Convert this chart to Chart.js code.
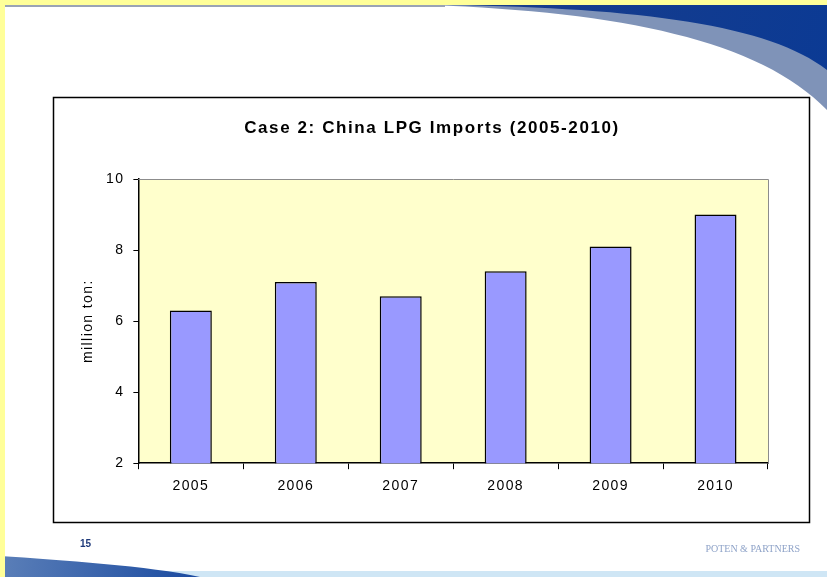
<!DOCTYPE html>
<html>
<head>
<meta charset="utf-8">
<script src="https://cdn.jsdelivr.net/npm/chart.js@4"></script>
<style>
  html, body { margin: 0; padding: 0; background: #fff; }
  #wrap { position: relative; width: 827px; height: 577px; }
</style>
</head>
<body>
<div id="wrap"><canvas id="lpgChart" width="827" height="577"></canvas></div>
<script>
// China LPG imports, million tons
const years = ['2005', '2006', '2007', '2008', '2009', '2010'];
const imports = [6.3, 7.1, 6.7, 7.4, 8.1, 9.0];
const yTicks = [2, 4, 6, 8, 10];
const chartTitle = 'Case 2: China LPG Imports (2005-2010)';

// Slide background: yellow edges, blue swooshes, chart frame, footer
const slidePlugin = {
    id: 'slide',
    beforeDraw(chart) {
        const ctx = chart.ctx;
        const W = chart.width, H = chart.height;
        ctx.save();
        ctx.fillStyle = '#fff';
        ctx.fillRect(0, 0, W, H);

        // top right swoosh
        let g = ctx.createLinearGradient(440, 0, 827, 100);
        g.addColorStop(0, '#1a3d8a');
        g.addColorStop(1, '#0b3a94');
        ctx.fillStyle = '#7f93b8';
        ctx.beginPath();
        ctx.moveTo(430, 5);
        ctx.bezierCurveTo(620, 12, 760, 40, 827, 110);
        ctx.lineTo(827, 5);
        ctx.closePath();
        ctx.fill();
        ctx.fillStyle = g;
        ctx.beginPath();
        ctx.moveTo(450, 5);
        ctx.bezierCurveTo(640, 8, 770, 25, 827, 70);
        ctx.lineTo(827, 5);
        ctx.closePath();
        ctx.fill();
        // thin grey line under top strip
        ctx.fillStyle = '#9aa3b5';
        ctx.fillRect(5, 5, 440, 2);

        // bottom left swoosh
        ctx.fillStyle = '#cfe6f5';
        ctx.fillRect(0, 571, W, 6);
        g = ctx.createLinearGradient(0, 560, 200, 577);
        g.addColorStop(0, '#5b7fb8');
        g.addColorStop(1, '#1a4aa0');
        ctx.fillStyle = g;
        ctx.beginPath();
        ctx.moveTo(0, 556);
        ctx.bezierCurveTo(60, 560, 150, 566, 200, 577);
        ctx.lineTo(0, 577);
        ctx.closePath();
        ctx.fill();

        // yellow edges
        ctx.fillStyle = '#ffff99';
        ctx.fillRect(0, 0, W, 5);
        ctx.fillRect(0, 0, 5, H);

        // chart frame
        ctx.strokeStyle = '#000';
        ctx.lineWidth = 1.5;
        ctx.strokeRect(53.5, 97.5, 756, 425);

        // footer text
        ctx.fillStyle = '#1f3a7a';
        ctx.font = 'bold 10px "Liberation Sans"';
        ctx.textBaseline = 'middle';
        ctx.fillText('15', 80, 544);
        ctx.fillStyle = '#8fa3c8';
        ctx.font = '10px "Liberation Serif"';
        ctx.textAlign = 'right';
        ctx.fillText('POTEN & PARTNERS', 800, 549);

        // title, spaced out like the original
        ctx.fillStyle = '#000';
        ctx.font = 'bold 17px "Liberation Sans"';
        ctx.textAlign = 'center';
        ctx.letterSpacing = '1.6px';
        ctx.fillText(chartTitle, 432, 128);

        // plot area fill
        const a = chart.chartArea;
        ctx.fillStyle = '#ffffcc';
        ctx.fillRect(a.left, a.top, a.right - a.left, a.bottom - a.top);
        ctx.restore();

        // axis text is spaced out a little too
        ctx.letterSpacing = '1.4px';
    },
    afterDatasetsDraw(chart) {
        const ctx = chart.ctx;
        const a = chart.chartArea;
        ctx.save();
        ctx.strokeStyle = '#8c8c8c';
        ctx.lineWidth = 1;
        ctx.beginPath();
        ctx.moveTo(a.left, a.top + 0.5);
        ctx.lineTo(a.right + 0.5, a.top + 0.5);
        ctx.lineTo(a.right + 0.5, a.bottom);
        ctx.stroke();
        ctx.restore();
    },
    afterDraw(chart) {
        chart.ctx.letterSpacing = '0px';
    }
};

const ctx = document.getElementById('lpgChart').getContext('2d');
new Chart(ctx, {
    type: 'bar',
    data: {
        labels: years,
        datasets: [{
            label: 'China LPG Imports',
            data: imports,
            backgroundColor: '#9999ff',
            borderColor: '#000',
            borderWidth: 1.5,
            borderSkipped: false,
            barPercentage: 0.4,
            categoryPercentage: 1.0
        }]
    },
    options: {
        responsive: false,
        animation: false,
        layout: { padding: { left: 80, right: 59, top: 179, bottom: 73 } },
        plugins: {
            legend: { display: false },
            tooltip: { enabled: false },
            title: { display: false }
        },
        scales: {
            x: {
                grid: { offset: true, drawOnChartArea: false, color: '#000', tickLength: 6 },
                border: { color: '#000', width: 1.5 },
                ticks: { color: '#000', font: { family: 'Liberation Sans', size: 14 }, padding: 9 }
            },
            y: {
                min: 2,
                max: 10,
                afterBuildTicks(scale) {
                    scale.ticks = yTicks.map(v => ({ value: v }));
                },
                grid: { drawOnChartArea: false, color: '#000', tickLength: 5 },
                border: { color: '#000', width: 1.5 },
                ticks: { color: '#000', font: { family: 'Liberation Sans', size: 14 }, padding: 9 },
                title: {
                    display: true,
                    text: 'million ton:',
                    color: '#000',
                    font: { family: 'Liberation Sans', size: 14 },
                    padding: { top: 0, bottom: 3 }
                }
            }
        }
    },
    plugins: [slidePlugin]
});
</script>
</body>
</html>
